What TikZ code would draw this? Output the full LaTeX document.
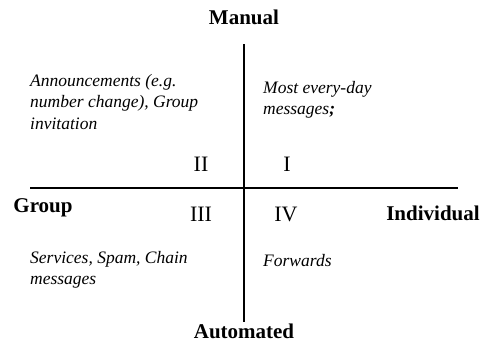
\documentclass[tikz,border=0pt]{standalone}
\usepackage{fontspec}
\setmainfont{Liberation Serif}
\usepackage{tikz}

\begin{document}
\begin{tikzpicture}[x=1pt,y=-1pt,
    axis/.style={font=\fontsize{21}{25}\selectfont\bfseries, inner sep=0pt},
    quad/.style={font=\fontsize{22}{26}\selectfont, inner sep=0pt},
    item/.style={font=\fontsize{17.5}{21.5}\selectfont\itshape, align=left, anchor=west, inner sep=0pt}]
    \useasboundingbox (0,0) rectangle (482,343);
    \coordinate (t) at (244, 44);
    \coordinate (b) at (244, 322);
    \coordinate (l) at (30, 188);
    \coordinate (r) at (458, 188);
    \node[axis] (m) at (244, 17) {Manual};
    \node[axis] (a) at (244, 331) {Automated};
    \node[axis] (g) at (43, 208) {Group};
    \node[axis] (i) at (433, 213) {Individual};
    \node[quad] (q1) at (287, 164) {I};
    \node[quad] (q2) at (201, 164) {II};
    \node[quad] (q3) at (201, 214) {III};
    \node[quad] (q4) at (286, 214) {IV};
    \node[item] (n) at (30, 102) {Announcements (e.g.\\number change), Group\\invitation};
    \node[item] (e) at (263, 100) {Most every-day\\messages\textbf{;}};
    \node[item] (s) at (30, 270) {Services, Spam, Chain\\messages};
    \node[item] (f) at (263, 261) {Forwards};
    \draw [line width=1.5pt] (t) -- (b);
    \draw [line width=1.5pt] (l) -- (r);
\end{tikzpicture}
\end{document}
